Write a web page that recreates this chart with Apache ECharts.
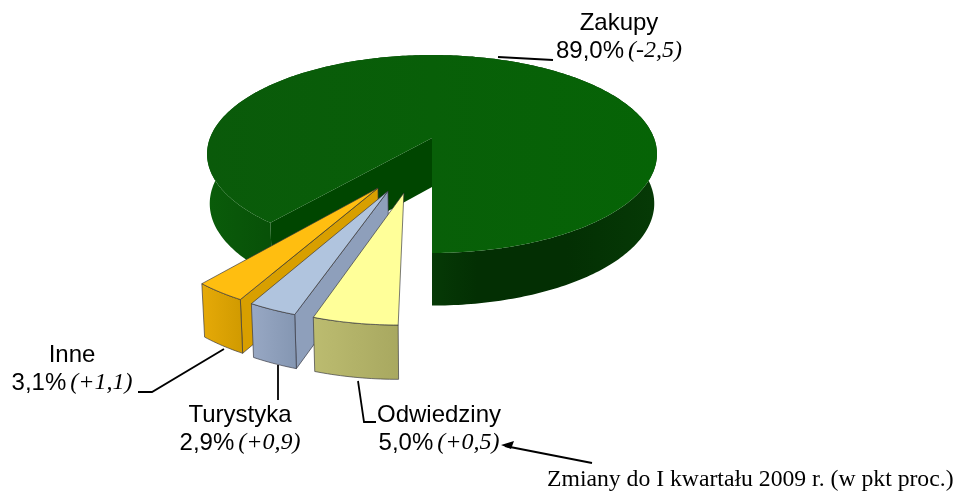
<!DOCTYPE html>
<html>
<head>
<meta charset="utf-8">
<style>
html, body { margin: 0; padding: 0; background: #fff; }
#chart { width: 958px; height: 492px; }
</style>
<script src="https://cdn.jsdelivr.net/npm/echarts@6/dist/echarts.min.js"></script>
</head>
<body>
<div id="chart"></div>
<script>
// dane, kolejnosc wg kata od "dolu" tortu
var categories = ['Odwiedziny', 'Turystyka', 'Inne', 'Zakupy'];
var shares = [5.0, 2.9, 3.1, 89.0];
var changes = ['+0,5', '+0,9', '+1,1', '-2,5'];
var note = 'Zmiany do I kwartału 2009 r. (w pkt proc.)';

// wyglad kawalkow
var explodeX = [-0.116, -0.182, -0.2245, 0];
var explodeY = [0.522, 0.505, 0.479, 0];
var radius = [0.955, 0.955, 0.955, 1];
var topColors = [['#ffff99', '#ffff99'], ['#b0c4de', '#b0c4de'], ['#ffbe10', '#ffbe10'], ['#0a5a0a', '#066406']];
var sideColors = ['#8f9a50', '#8e9fbb', '#d89f00', '#004600'];
var arcColors = [
    ['#bcbc70', '#a8a860'],
    ['#98a8c4', '#8496b2'],
    ['#e6aa08', '#d09a00'],
    ['#0a5c0a', '#074c07', '#084408', '#032f03', '#032f03', '#063a06']
];
var labelPos = [[439, 429], [240, 429], [72, 369], [619, 37]];
var leaders = [
    [[358, 381], [364, 422], [376, 422]],
    [[278, 365], [278, 400]],
    [[224, 349], [152, 392], [138, 392]],
    [[498, 57], [553, 60]]
];

// rzut perspektywiczny tortu
var cx = 432, cy = 138, scaleX = 222, scaleY = 96.4, persp = 0.1616;
function project(x, y, z) {
    var w = 1 - persp * y;
    return [
        cx + scaleX * x / w * (1 - 0.012 * z),
        cy + scaleY * y / w + z * (49 + 3.6 * y)
    ];
}
function arcPoints(i, a0, a1, z) {
    var pts = [], steps = Math.max(4, Math.round((a1 - a0) * 60));
    for (var k = 0; k <= steps; k++) {
        var a = a0 + (a1 - a0) * k / steps;
        pts.push(project(explodeX[i] - Math.sin(a) * radius[i], explodeY[i] + Math.cos(a) * radius[i], z));
    }
    return pts;
}
function total() {
    return shares.reduce(function (s, v) { return s + v; }, 0);
}
function startAngle(i) {
    var s = 0;
    for (var k = 0; k < i; k++) s += shares[k];
    return s / total() * Math.PI * 2;
}
function gradient(colors) {
    return new echarts.graphic.LinearGradient(0, 0, 1, 0, colors.map(function (c, k, arr) {
        return { offset: k / (arr.length - 1), color: c };
    }));
}

var textRich = {
    a: { fontFamily: 'Liberation Sans', fontSize: 24, lineHeight: 28, color: '#000' },
    b: { fontFamily: 'Liberation Serif', fontStyle: 'italic', fontSize: 24, lineHeight: 28, color: '#222', padding: [0, 0, 0, 4] }
};
var edge = { stroke: 'rgba(50,50,60,0.65)', lineWidth: 1 };

function renderSlice(params, api) {
    var i = api.value(0);
    var a0 = startAngle(i);
    var a1 = a0 + api.value(1) / total() * Math.PI * 2;
    var apexTop = project(explodeX[i], explodeY[i], 0);
    var apexBot = project(explodeX[i], explodeY[i], 1);
    var topArc = arcPoints(i, a0, a1, 0);
    var botArc = arcPoints(i, a0, a1, 1);
    var line = i === 3 ? { stroke: null } : edge;
    var children = [];
    // sciana przy a0 = 0 jest ustawiona bokiem, nie widac jej
    if (a0 > 0) {
        children.push({
            type: 'polygon',
            shape: { points: [apexTop, topArc[0], botArc[0], apexBot] },
            style: Object.assign({ fill: sideColors[i] }, line)
        });
    }
    children.push(
        {
            type: 'polygon',
            shape: { points: topArc.concat(botArc.slice().reverse()) },
            style: Object.assign({ fill: gradient(arcColors[i]) }, line)
        },
        {
            type: 'polygon',
            shape: { points: [apexTop].concat(topArc) },
            style: Object.assign({ fill: gradient(topColors[i]) }, line)
        },
        {
            type: 'polyline',
            shape: { points: leaders[i] },
            style: { stroke: '#000', lineWidth: 1.8, fill: null }
        },
        {
            type: 'text',
            x: labelPos[i][0],
            y: labelPos[i][1],
            style: {
                text: '{a|' + categories[i] + '}\n{a|' + api.value(1).toFixed(1).replace('.', ',') + '%}{b|(' + changes[i] + ')}',
                rich: textRich,
                align: 'center',
                verticalAlign: 'middle'
            }
        }
    );
    return { type: 'group', children: children };
}

var chart = echarts.init(document.getElementById('chart'), null, { renderer: 'canvas' });
chart.setOption({
    animation: false,
    backgroundColor: '#fff',
    graphic: [
        {
            type: 'line',
            shape: { x1: 592, y1: 463, x2: 505, y2: 446 },
            style: { stroke: '#000', lineWidth: 1.8 }
        },
        {
            type: 'polygon',
            shape: { points: [[501, 445], [514, 441], [511, 449]] },
            style: { fill: '#000' }
        },
        {
            type: 'text',
            x: 547,
            y: 480,
            style: {
                text: note,
                fontFamily: 'Liberation Serif',
                fontSize: 23.7,
                fill: '#000',
                verticalAlign: 'middle'
            }
        }
    ],
    series: [{
        type: 'custom',
        coordinateSystem: 'none',
        renderItem: renderSlice,
        silent: true,
        // rysowane od tylu: najpierw duzy kawalek, na koncu Odwiedziny
        data: shares.map(function (v, i) { return [i, v]; }).reverse()
    }]
});
</script>
</body>
</html>
